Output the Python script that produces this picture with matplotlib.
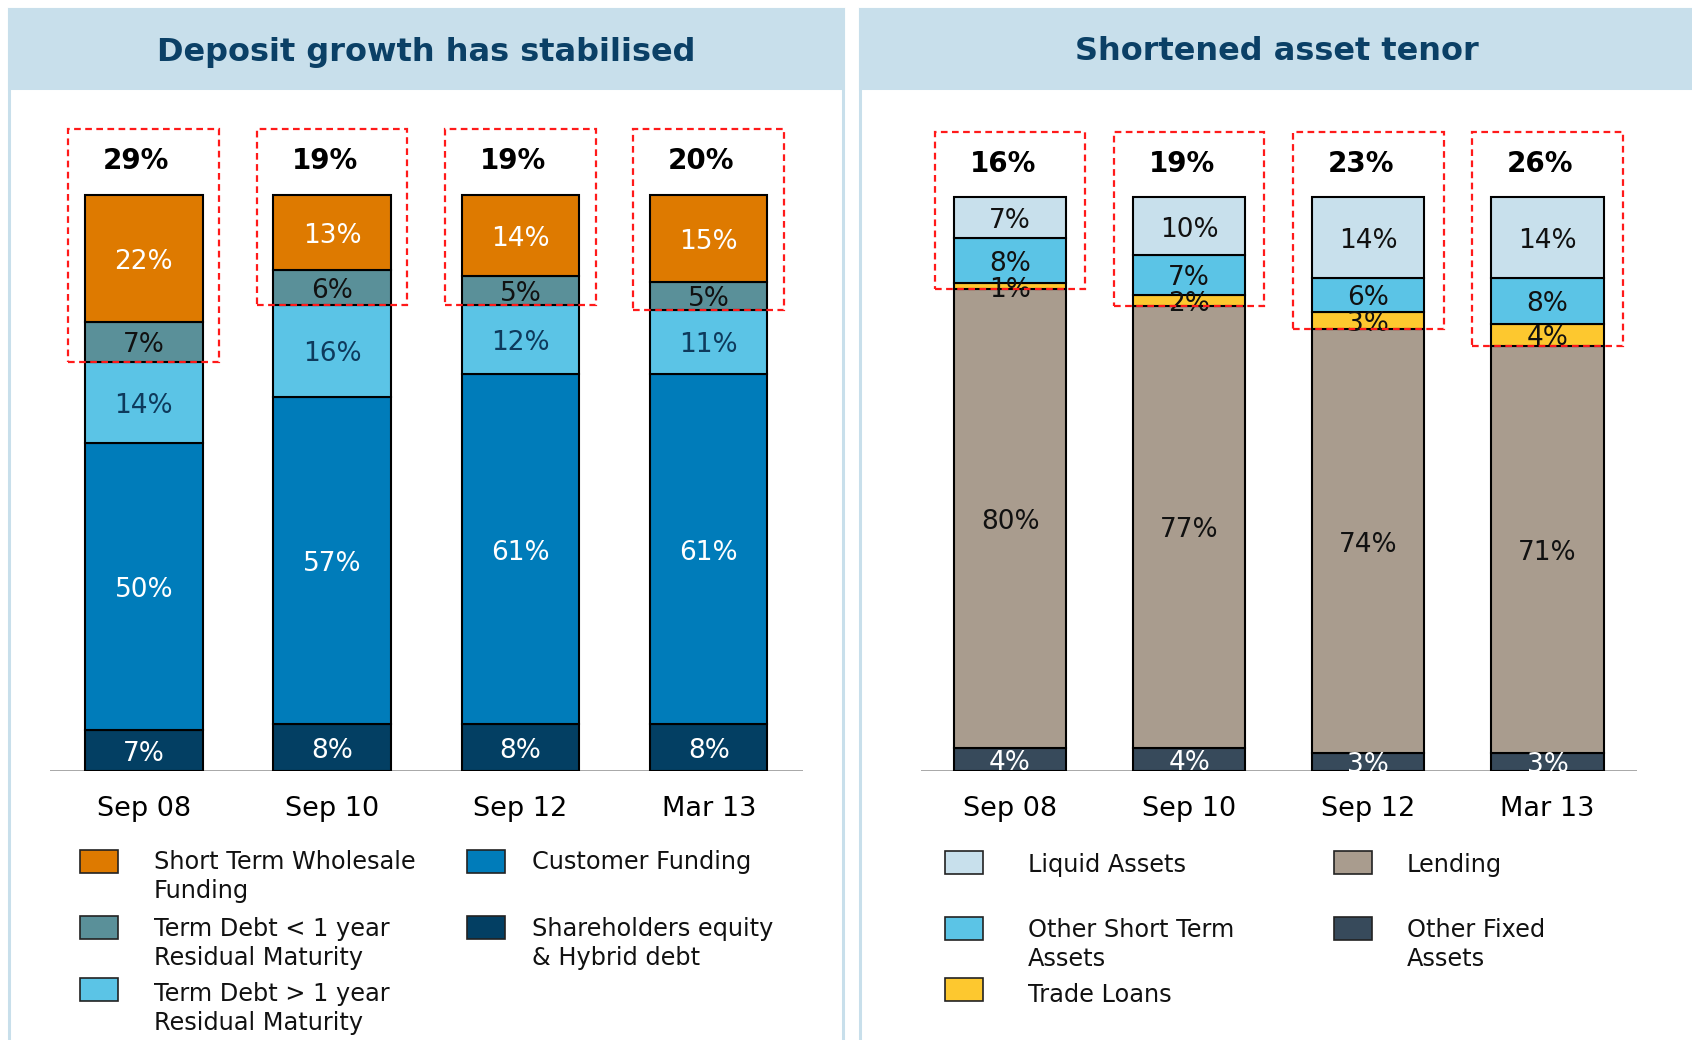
import matplotlib.pyplot as plt
from matplotlib.patches import Rectangle
import numpy as np

W, H = 1692, 1040

periods = ['Sep 08', 'Sep 10', 'Sep 12', 'Mar 13']

# funding mix, bottom to top
shareholders = [7, 8, 8, 8]
customer_funding = [50, 57, 61, 61]
term_debt_gt1 = [14, 16, 12, 11]
term_debt_lt1 = [7, 6, 5, 5]
st_wholesale = [22, 13, 14, 15]

# asset mix, bottom to top
other_fixed = [4, 4, 3, 3]
lending = [80, 77, 74, 71]
trade_loans = [1, 2, 3, 4]
other_short_term = [8, 7, 6, 8]
liquid_assets = [7, 10, 14, 14]

left_title = 'Deposit growth has stabilised'
right_title = 'Shortened asset tenor'

left_series = [shareholders, customer_funding, term_debt_gt1, term_debt_lt1, st_wholesale]
left_colors = ['#033F63', '#007CBA', '#5BC4E6', '#5A9099', '#DE7A00']
left_txt = ['white', 'white', '#0E3A5C', '#111111', 'white']
left_boxed = [3, 4]  # series inside the red box

right_series = [other_fixed, lending, trade_loans, other_short_term, liquid_assets]
right_colors = ['#374A5B', '#A99C8E', '#FDC82F', '#5BC4E6', '#C8E0EC']
right_txt = ['white', '#111111', '#111111', '#111111', '#111111']
right_boxed = [2, 3, 4]

PANEL = '#C8DFEB'
TITLE = '#0B4066'


def fx(x):
    return x / W


def fy(y):
    return 1 - y / H


fig = plt.figure(figsize=(W / 100, H / 100), dpi=100)

# panel frames and header bands
for x0, x1, title, tx in [(9, 843, left_title, 426), (860, 1700, right_title, 1277)]:
    fig.add_artist(Rectangle((fx(x0), fy(1045)), fx(x1 - x0), (1045 - 9) / H,
                             transform=fig.transFigure, facecolor='white',
                             edgecolor=PANEL, linewidth=2.2, zorder=0))
    fig.add_artist(Rectangle((fx(x0), fy(88)), fx(x1 - x0), 79 / H,
                             transform=fig.transFigure, facecolor=PANEL,
                             edgecolor=PANEL, linewidth=2.2, zorder=0))
    fig.text(fx(tx), fy(52), title, ha='center', va='center', fontsize=23,
             fontweight='bold', color=TITLE)


def draw_stack(ax, series, colors, txt_colors, boxed, width, box_w):
    x = np.arange(len(periods))
    bottom = np.zeros(len(periods))
    for vals, c, tc in zip(series, colors, txt_colors):
        vals = np.array(vals, dtype=float)
        ax.bar(x, vals, width, bottom=bottom, color=c, edgecolor='black',
               linewidth=1.5, zorder=2)
        for xi, b, v in zip(x, bottom, vals):
            ax.annotate(f'{v:.0f}%', (xi, b + v / 2), xytext=(0, -2.5),
                        textcoords='offset points', ha='center', va='center',
                        fontsize=19, color=tc, zorder=4)
        bottom += vals
    boxed_sum = np.sum([series[i] for i in boxed], axis=0)
    low = bottom - boxed_sum
    for xi, lo, s in zip(x, low, boxed_sum):
        ax.add_patch(Rectangle((xi - box_w / 2, lo), box_w, 111.5 - lo,
                               fill=False, edgecolor='#FF1A1A', linewidth=1.6,
                               linestyle=(0, (3, 2)), zorder=5))
        ax.text(xi - 0.04, 105.9, f'{s:.0f}%', ha='center', va='center',
                fontsize=20, fontweight='bold', color='black')
    ax.axhline(0, color='#A0A0A0', linewidth=2, zorder=1)
    ax.set_xlim(-0.5, 3.5)
    ax.set_ylim(0, 115)
    ax.set_xticks(x, periods, fontsize=19.5)
    ax.tick_params(axis='x', length=0, pad=18)
    ax.set_yticks([])
    for sp in ax.spines.values():
        sp.set_visible(False)
    ax.patch.set_alpha(0)


ax1 = fig.add_axes([fx(49.6), fy(770.5), fx(753.3), 661.5 / H])
draw_stack(ax1, left_series, left_colors, left_txt, left_boxed, 0.624, 0.80)

ax2 = fig.add_axes([fx(920.5), fy(770.5), fx(716.5), 659 / H])
draw_stack(ax2, right_series, right_colors, right_txt, right_boxed, 0.627, 0.84)

# legends, laid out as in the slide
left_legend = [
    ('Short Term Wholesale\nFunding', left_colors[4], 80, 850, 154, 864),
    ('Term Debt < 1 year\nResidual Maturity', left_colors[3], 80, 916, 154, 931),
    ('Term Debt > 1 year\nResidual Maturity', left_colors[2], 80, 978, 154, 996),
    ('Customer Funding', left_colors[1], 467, 850, 532, 864),
    ('Shareholders equity\n& Hybrid debt', left_colors[0], 467, 916, 532, 931),
]
right_legend = [
    ('Liquid Assets', right_colors[4], 945, 851, 1028, 867),
    ('Other Short Term\nAssets', right_colors[3], 945, 917, 1028, 932),
    ('Trade Loans', right_colors[2], 945, 978, 1028, 997),
    ('Lending', right_colors[1], 1334, 851, 1407, 867),
    ('Other Fixed\nAssets', right_colors[0], 1334, 917, 1407, 932),
]
for label, c, sx, sy, tx, ty in left_legend + right_legend:
    fig.add_artist(Rectangle((fx(sx), fy(sy + 23)), fx(38), 23 / H,
                             transform=fig.transFigure, facecolor=c,
                             edgecolor='#222222', linewidth=1.2))
    fig.text(fx(tx), fy(ty - 14), label, ha='left', va='top', fontsize=17.3,
             color='#111111', linespacing=1.25)

fig.savefig('out.png', dpi=100)
